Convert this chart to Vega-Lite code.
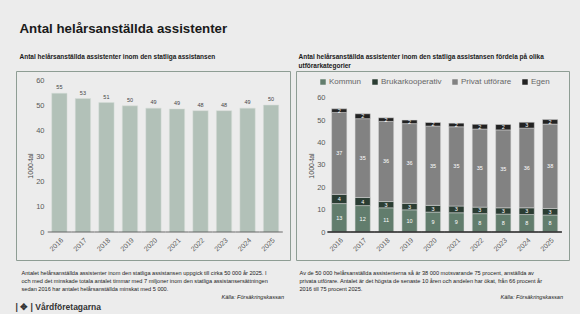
{
  "$schema": "https://vega.github.io/schema/vega-lite/v6.json",
  "background": "#ececec",
  "padding": {"left": 15, "top": 21, "right": 14, "bottom": 2},
  "title": {"text": "Antal helårsanställda assistenter", "anchor": "start", "dx": 4, "fontSize": 13.3, "font": "Liberation Sans", "fontWeight": "bold", "color": "#1a1a1a", "offset": 19},
  "config": {
    "font": "Liberation Sans",
    "view": {"stroke": "#8e9d94", "strokeWidth": 1},
    "axis": {"grid": false, "ticks": false, "labelFont": "Liberation Sans", "labelColor": "#5a5a5a", "titleFont": "Liberation Sans"},
    "title": {"font": "Liberation Sans", "color": "#1a1a1a"}
  },
  "datasets": {
    "total": [
      {"year": "2016", "value": 54.8},
      {"year": "2017", "value": 52.7},
      {"year": "2018", "value": 51.1},
      {"year": "2019", "value": 49.8},
      {"year": "2020", "value": 48.9},
      {"year": "2021", "value": 48.6},
      {"year": "2022", "value": 47.9},
      {"year": "2023", "value": 47.9},
      {"year": "2024", "value": 48.9},
      {"year": "2025", "value": 50.1}
    ],
    "split": [
      {"year": "2016", "cat": "Kommun", "rank": 1, "value": 12.7},
      {"year": "2016", "cat": "Brukarkooperativ", "rank": 2, "value": 4.1},
      {"year": "2016", "cat": "Privat utförare", "rank": 3, "value": 36.6},
      {"year": "2016", "cat": "Egen", "rank": 4, "value": 1.6},
      {"year": "2017", "cat": "Kommun", "rank": 1, "value": 11.8},
      {"year": "2017", "cat": "Brukarkooperativ", "rank": 2, "value": 3.6},
      {"year": "2017", "cat": "Privat utförare", "rank": 3, "value": 35.2},
      {"year": "2017", "cat": "Egen", "rank": 4, "value": 2.2},
      {"year": "2018", "cat": "Kommun", "rank": 1, "value": 10.8},
      {"year": "2018", "cat": "Brukarkooperativ", "rank": 2, "value": 2.8},
      {"year": "2018", "cat": "Privat utförare", "rank": 3, "value": 35.8},
      {"year": "2018", "cat": "Egen", "rank": 4, "value": 1.6},
      {"year": "2019", "cat": "Kommun", "rank": 1, "value": 9.9},
      {"year": "2019", "cat": "Brukarkooperativ", "rank": 2, "value": 2.9},
      {"year": "2019", "cat": "Privat utförare", "rank": 3, "value": 35.6},
      {"year": "2019", "cat": "Egen", "rank": 4, "value": 1.6},
      {"year": "2020", "cat": "Kommun", "rank": 1, "value": 8.9},
      {"year": "2020", "cat": "Brukarkooperativ", "rank": 2, "value": 3.0},
      {"year": "2020", "cat": "Privat utförare", "rank": 3, "value": 35.4},
      {"year": "2020", "cat": "Egen", "rank": 4, "value": 1.6},
      {"year": "2021", "cat": "Kommun", "rank": 1, "value": 8.6},
      {"year": "2021", "cat": "Brukarkooperativ", "rank": 2, "value": 3.0},
      {"year": "2021", "cat": "Privat utförare", "rank": 3, "value": 35.4},
      {"year": "2021", "cat": "Egen", "rank": 4, "value": 1.6},
      {"year": "2022", "cat": "Kommun", "rank": 1, "value": 8.2},
      {"year": "2022", "cat": "Brukarkooperativ", "rank": 2, "value": 2.9},
      {"year": "2022", "cat": "Privat utförare", "rank": 3, "value": 34.9},
      {"year": "2022", "cat": "Egen", "rank": 4, "value": 2.1},
      {"year": "2023", "cat": "Kommun", "rank": 1, "value": 8.0},
      {"year": "2023", "cat": "Brukarkooperativ", "rank": 2, "value": 2.8},
      {"year": "2023", "cat": "Privat utförare", "rank": 3, "value": 34.8},
      {"year": "2023", "cat": "Egen", "rank": 4, "value": 2.4},
      {"year": "2024", "cat": "Kommun", "rank": 1, "value": 7.8},
      {"year": "2024", "cat": "Brukarkooperativ", "rank": 2, "value": 3.0},
      {"year": "2024", "cat": "Privat utförare", "rank": 3, "value": 35.6},
      {"year": "2024", "cat": "Egen", "rank": 4, "value": 2.6},
      {"year": "2025", "cat": "Kommun", "rank": 1, "value": 7.6},
      {"year": "2025", "cat": "Brukarkooperativ", "rank": 2, "value": 2.9},
      {"year": "2025", "cat": "Privat utförare", "rank": 3, "value": 37.7},
      {"year": "2025", "cat": "Egen", "rank": 4, "value": 2.0}
    ]
  },
  "vconcat": [
    {
      "title": {"text": "|  ✥  |  Vårdföretagarna", "orient": "bottom", "anchor": "start", "fontSize": 8.5, "fontWeight": "bold", "color": "#333333", "offset": 2},
      "spacing": 4,
      "resolve": {"scale": {"color": "independent"}, "legend": {"color": "independent"}},
      "hconcat": [
        {
          "title": {"text": "Antal helårsanställda assistenter inom den  statliga assistansen", "anchor": "start", "dx": 4, "fontSize": 6.5, "fontWeight": "bold", "offset": 10},
          "vconcat": [
            {
              "width": 274,
              "height": 189,
              "title": {"text": "Källa: Försäkringskassan", "orient": "bottom", "anchor": "end", "dx": -6, "fontSize": 5.6, "fontStyle": "italic", "fontWeight": "normal", "offset": 3},
              "data": {"name": "total"},
              "encoding": {
                "x": {
                  "field": "year", "type": "ordinal",
                  "scale": {"paddingInner": 0.35, "paddingOuter": 1.125, "align": 0.76},
                  "axis": {
                    "offset": -28, "domain": false, "labelAngle": -45, "labelAlign": "right", "labelBaseline": "top", "labelPadding": 4, "labelFontSize": 7,
                    "title": ["Antalet helårsanställda assistenter inom den statliga assistansen uppgick till cirka 50 000 år 2025. I", "och med det minskade totala antalet timmar med 7 miljoner inom den statliga assistansersättningen", "sedan 2016 har antalet helårsanställda minskat med 5 000."],
                    "titleAnchor": "start", "titleX": 5, "titleAlign": "left", "titleFontSize": 5.6, "titleFontWeight": "normal", "titleColor": "#222222", "titleLineHeight": 7.8, "titlePadding": 19
                  }
                },
                "y": {
                  "field": "value", "type": "quantitative",
                  "scale": {"domain": [-11.05, 63.56], "nice": false, "zero": false},
                  "axis": {"offset": -35, "domain": false, "values": [0, 10, 20, 30, 40, 50, 60], "labelPadding": 7, "labelFontSize": 7.5, "title": "1000-tal", "titleFontSize": 7, "titleFontWeight": "normal", "titleColor": "#444444", "titlePadding": 2}
                }
              },
              "layer": [
                {"mark": {"type": "bar", "color": "#b2c1b8", "stroke": "#d6ddd8", "strokeWidth": 0.5}},
                {"mark": {"type": "text", "dy": -6, "fontSize": 5.5, "color": "#444444"}, "encoding": {"text": {"field": "value", "type": "quantitative", "format": ".0f"}}},
                {"mark": {"type": "tick", "orient": "horizontal", "color": "#333333", "thickness": 1, "size": 23.4}, "encoding": {"y": {"datum": 0}}}
              ]
            }
          ]
        },
        {
          "title": {"text": ["Antal helårsanställda assistenter inom den  statliga assistansen fördela på olika", "utförarkategorier"], "anchor": "start", "dx": 3, "fontSize": 6.5, "fontWeight": "bold", "lineHeight": 9, "offset": 1},
          "resolve": {"scale": {"color": "independent"}, "legend": {"color": "independent"}},
          "vconcat": [
            {
              "width": 273,
              "height": 189,
              "title": {"text": "Källa: Försäkringskassan", "orient": "bottom", "anchor": "end", "dx": -6, "fontSize": 5.6, "fontStyle": "italic", "fontWeight": "normal", "offset": 3},
              "data": {"name": "split"},
              "encoding": {
                "x": {
                  "field": "year", "type": "ordinal",
                  "scale": {"paddingInner": 0.35, "paddingOuter": 1.085, "align": 0.76},
                  "axis": {
                    "offset": -28, "domain": false, "labelAngle": -45, "labelAlign": "right", "labelBaseline": "top", "labelPadding": 4, "labelFontSize": 7,
                    "title": ["Av de 50 000 helårsanställda assistenterna så är 38 000 motsvarande 75 procent, anställda av", "privata utförare. Antalet är det högsta  de senaste 10 åren och andelen har ökat, från 66 procent år", "2016 till 75 procent 2025."],
                    "titleAnchor": "start", "titleX": 3, "titleAlign": "left", "titleFontSize": 5.6, "titleFontWeight": "normal", "titleColor": "#222222", "titleLineHeight": 7.8, "titlePadding": 19
                  }
                },
                "y": {
                  "field": "value", "type": "quantitative",
                  "stack": "zero",
                  "scale": {"domain": [-12.5, 71.9], "nice": false, "zero": false},
                  "axis": {"offset": -36, "domain": false, "values": [0, 10, 20, 30, 40, 50, 60], "labelPadding": 7, "labelFontSize": 7.5, "title": "1000-tal", "titleFontSize": 7, "titleFontWeight": "normal", "titleColor": "#444444", "titlePadding": 2}
                },
                "order": {"field": "rank", "type": "quantitative"}
              },
              "layer": [
                {
                  "mark": {"type": "bar", "stroke": "#d9d9d9", "strokeWidth": 0.5},
                  "encoding": {
                    "color": {
                      "field": "cat", "type": "nominal",
                      "scale": {"domain": ["Kommun", "Brukarkooperativ", "Privat utförare", "Egen"], "range": ["#627d6d", "#2b3d33", "#828282", "#222222"]},
                      "legend": {"orient": "none", "legendX": 23, "legendY": 7, "direction": "horizontal", "title": null, "symbolType": "square", "symbolSize": 30, "symbolStrokeWidth": 0, "labelFontSize": 8, "labelColor": "#666666", "labelFont": "Liberation Sans", "columnPadding": 9, "labelOffset": 2}
                    }
                  }
                },
                {
                  "mark": {"type": "text", "fontSize": 5.5, "color": "#ffffff", "baseline": "middle"},
                  "encoding": {
                    "y": {"field": "value", "type": "quantitative", "stack": "zero", "bandPosition": 0.5},
                    "detail": {"field": "cat"},
                    "text": {"field": "value", "type": "quantitative", "format": ".0f"}
                  }
                },
                {"mark": {"type": "tick", "orient": "horizontal", "color": "#333333", "thickness": 1, "size": 23.4}, "encoding": {"y": {"datum": 0, "stack": null}}}
              ]
            }
          ]
        }
      ]
    }
  ]
}
